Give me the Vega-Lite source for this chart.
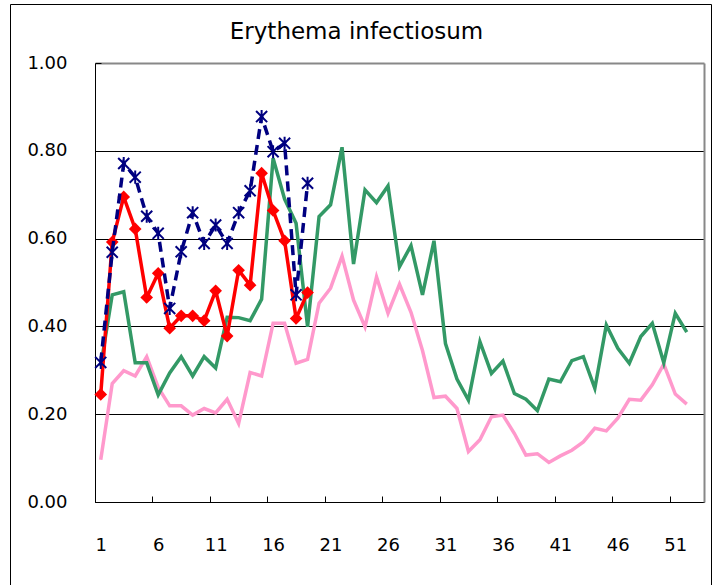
{
  "$schema": "https://vega.github.io/schema/vega-lite/v6.json",
  "width": 701,
  "height": 581,
  "autosize": {"type": "none"},
  "padding": {"left": 10, "top": 4, "right": 9, "bottom": 0},
  "background": "white",
  "config": {
    "view": {"stroke": "black", "strokeWidth": 1, "fill": "white"},
    "font": "DejaVu Sans"
  },
  "title": {
    "text": "Erythema infectiosum",
    "font": "DejaVu Sans",
    "fontSize": 23,
    "fontWeight": "normal",
    "color": "black",
    "anchor": "middle",
    "frame": "group",
    "baseline": "middle",
    "offset": -28,
    "dx": -4,
    "dy": 23
  },
  "datasets": {
    "weekly": [
      {"week":1,"series":"S1","value":0.31},{"week":2,"series":"S1","value":0.472},{"week":3,"series":"S1","value":0.479},{"week":4,"series":"S1","value":0.317},{"week":5,"series":"S1","value":0.317},{"week":6,"series":"S1","value":0.244},{"week":7,"series":"S1","value":0.294},{"week":8,"series":"S1","value":0.331},{"week":9,"series":"S1","value":0.287},{"week":10,"series":"S1","value":0.331},{"week":11,"series":"S1","value":0.305},{"week":12,"series":"S1","value":0.421},{"week":13,"series":"S1","value":0.42},{"week":14,"series":"S1","value":0.413},{"week":15,"series":"S1","value":0.462},{"week":16,"series":"S1","value":0.783},{"week":17,"series":"S1","value":0.69},{"week":18,"series":"S1","value":0.635},{"week":19,"series":"S1","value":0.399},{"week":20,"series":"S1","value":0.65},{"week":21,"series":"S1","value":0.677},{"week":22,"series":"S1","value":0.808},{"week":23,"series":"S1","value":0.542},{"week":24,"series":"S1","value":0.711},{"week":25,"series":"S1","value":0.682},{"week":26,"series":"S1","value":0.72},{"week":27,"series":"S1","value":0.536},{"week":28,"series":"S1","value":0.584},{"week":29,"series":"S1","value":0.472},{"week":30,"series":"S1","value":0.595},{"week":31,"series":"S1","value":0.361},{"week":32,"series":"S1","value":0.28},{"week":33,"series":"S1","value":0.232},{"week":34,"series":"S1","value":0.365},{"week":35,"series":"S1","value":0.293},{"week":36,"series":"S1","value":0.321},{"week":37,"series":"S1","value":0.247},{"week":38,"series":"S1","value":0.234},{"week":39,"series":"S1","value":0.208},{"week":40,"series":"S1","value":0.28},{"week":41,"series":"S1","value":0.274},{"week":42,"series":"S1","value":0.322},{"week":43,"series":"S1","value":0.331},{"week":44,"series":"S1","value":0.259},{"week":45,"series":"S1","value":0.403},{"week":46,"series":"S1","value":0.35},{"week":47,"series":"S1","value":0.316},{"week":48,"series":"S1","value":0.377},{"week":49,"series":"S1","value":0.407},{"week":50,"series":"S1","value":0.317},{"week":51,"series":"S1","value":0.43},{"week":52,"series":"S1","value":0.387},
      {"week":1,"series":"S2","value":0.096},{"week":2,"series":"S2","value":0.27},{"week":3,"series":"S2","value":0.299},{"week":4,"series":"S2","value":0.287},{"week":5,"series":"S2","value":0.331},{"week":6,"series":"S2","value":0.261},{"week":7,"series":"S2","value":0.219},{"week":8,"series":"S2","value":0.219},{"week":9,"series":"S2","value":0.198},{"week":10,"series":"S2","value":0.213},{"week":11,"series":"S2","value":0.203},{"week":12,"series":"S2","value":0.234},{"week":13,"series":"S2","value":0.179},{"week":14,"series":"S2","value":0.295},{"week":15,"series":"S2","value":0.287},{"week":16,"series":"S2","value":0.407},{"week":17,"series":"S2","value":0.407},{"week":18,"series":"S2","value":0.316},{"week":19,"series":"S2","value":0.325},{"week":20,"series":"S2","value":0.453},{"week":21,"series":"S2","value":0.487},{"week":22,"series":"S2","value":0.56},{"week":23,"series":"S2","value":0.46},{"week":24,"series":"S2","value":0.399},{"week":25,"series":"S2","value":0.513},{"week":26,"series":"S2","value":0.43},{"week":27,"series":"S2","value":0.496},{"week":28,"series":"S2","value":0.432},{"week":29,"series":"S2","value":0.345},{"week":30,"series":"S2","value":0.238},{"week":31,"series":"S2","value":0.241},{"week":32,"series":"S2","value":0.213},{"week":33,"series":"S2","value":0.115},{"week":34,"series":"S2","value":0.142},{"week":35,"series":"S2","value":0.194},{"week":36,"series":"S2","value":0.198},{"week":37,"series":"S2","value":0.156},{"week":38,"series":"S2","value":0.107},{"week":39,"series":"S2","value":0.11},{"week":40,"series":"S2","value":0.09},{"week":41,"series":"S2","value":0.105},{"week":42,"series":"S2","value":0.118},{"week":43,"series":"S2","value":0.137},{"week":44,"series":"S2","value":0.168},{"week":45,"series":"S2","value":0.162},{"week":46,"series":"S2","value":0.191},{"week":47,"series":"S2","value":0.234},{"week":48,"series":"S2","value":0.232},{"week":49,"series":"S2","value":0.267},{"week":50,"series":"S2","value":0.314},{"week":51,"series":"S2","value":0.246},{"week":52,"series":"S2","value":0.223},
      {"week":1,"series":"S3","value":0.245},{"week":2,"series":"S3","value":0.592},{"week":3,"series":"S3","value":0.695},{"week":4,"series":"S3","value":0.622},{"week":5,"series":"S3","value":0.466},{"week":6,"series":"S3","value":0.521},{"week":7,"series":"S3","value":0.396},{"week":8,"series":"S3","value":0.424},{"week":9,"series":"S3","value":0.424},{"week":10,"series":"S3","value":0.413},{"week":11,"series":"S3","value":0.481},{"week":12,"series":"S3","value":0.378},{"week":13,"series":"S3","value":0.528},{"week":14,"series":"S3","value":0.494},{"week":15,"series":"S3","value":0.749},{"week":16,"series":"S3","value":0.664},{"week":17,"series":"S3","value":0.595},{"week":18,"series":"S3","value":0.418},{"week":19,"series":"S3","value":0.477},
      {"week":1,"series":"S4","value":0.318},{"week":2,"series":"S4","value":0.569},{"week":3,"series":"S4","value":0.771},{"week":4,"series":"S4","value":0.74},{"week":5,"series":"S4","value":0.651},{"week":6,"series":"S4","value":0.612},{"week":7,"series":"S4","value":0.441},{"week":8,"series":"S4","value":0.57},{"week":9,"series":"S4","value":0.659},{"week":10,"series":"S4","value":0.589},{"week":11,"series":"S4","value":0.631},{"week":12,"series":"S4","value":0.589},{"week":13,"series":"S4","value":0.659},{"week":14,"series":"S4","value":0.709},{"week":15,"series":"S4","value":0.878},{"week":16,"series":"S4","value":0.798},{"week":17,"series":"S4","value":0.817},{"week":18,"series":"S4","value":0.472},{"week":19,"series":"S4","value":0.726}
    ]
  },
  "data": {"name": "weekly"},
  "encoding": {
    "x": {
      "field": "week",
      "type": "quantitative",
      "scale": {"domain": [0.5, 53.5], "range": [85, 694], "nice": false, "zero": false},
      "axis": {
        "orient": "bottom",
        "offset": -83,
        "values": [0.5, 5.5, 10.5, 15.5, 20.5, 25.5, 30.5, 35.5, 40.5, 45.5, 50.5],
        "labelExpr": "format(datum.value + 0.5, 'd')",
        "labelOffset": 5.75,
        "tickSize": -6,
        "tickColor": "black",
        "domainColor": "black",
        "grid": false,
        "title": null,
        "labelFont": "DejaVu Sans",
        "labelFontSize": 18,
        "labelColor": "black",
        "labelPadding": 40,
        "labelFlush": false,
        "labelOverlap": false
      }
    }
  },
  "resolve": {"axis": {"y": "independent"}},
  "layer": [
    {
      "transform": [{"filter": "datum.series === 'S2'"}],
      "mark": {"type": "line", "color": "#FF99CC", "strokeWidth": 3.5},
      "encoding": {
        "y": {
          "field": "value",
          "type": "quantitative",
          "scale": {"domain": [0, 1], "range": [498, 59], "nice": false, "zero": false},
          "axis": {
            "orient": "left",
            "offset": -85,
            "values": [0, 0.2, 0.4, 0.6, 0.8, 1.0],
            "format": ".2f",
            "tickSize": -6,
            "tickColor": "black",
            "domainColor": "black",
            "grid": true,
            "gridColor": {"condition": {"test": "datum.value >= 0.99", "value": "#888888"}, "value": "black"},
            "gridWidth": {"condition": {"test": "datum.value >= 0.99", "value": 2}, "value": 1},
            "title": null,
            "labelFont": "DejaVu Sans",
            "labelFontSize": 18,
            "labelColor": "black",
            "labelPadding": 34,
            "labelFlush": false,
            "labelOverlap": false
          }
        }
      }
    },
    {
      "transform": [{"filter": "datum.series === 'S1'"}],
      "mark": {"type": "line", "color": "#339966", "strokeWidth": 3.5},
      "encoding": {
        "y": {
          "field": "value",
          "type": "quantitative",
          "axis": {
            "orient": "right",
            "offset": -7,
            "labels": false,
            "ticks": false,
            "grid": false,
            "title": null,
            "domainColor": "#888888",
            "domainWidth": 2
          }
        }
      }
    },
    {
      "transform": [{"filter": "datum.series === 'S3'"}],
      "mark": {"type": "line", "color": "#FF0000", "strokeWidth": 3.5},
      "encoding": {"y": {"field": "value", "type": "quantitative", "axis": null}}
    },
    {
      "transform": [{"filter": "datum.series === 'S3'"}],
      "mark": {"type": "point", "shape": "diamond", "filled": true, "color": "#FF0000", "size": 160, "opacity": 1},
      "encoding": {"y": {"field": "value", "type": "quantitative", "axis": null}}
    },
    {
      "transform": [{"filter": "datum.series === 'S4'"}],
      "mark": {"type": "line", "color": "#000080", "strokeWidth": 3.5, "strokeDash": [10, 6]},
      "encoding": {"y": {"field": "value", "type": "quantitative", "axis": null}}
    },
    {
      "transform": [{"filter": "datum.series === 'S4'"}],
      "mark": {"type": "point", "shape": "M-0.85,-0.85L0.85,0.85M-0.85,0.85L0.85,-0.85M0,-1L0,1", "filled": false, "color": "#000080", "strokeWidth": 2, "size": 170, "opacity": 1},
      "encoding": {"y": {"field": "value", "type": "quantitative", "axis": null}}
    }
  ]
}
